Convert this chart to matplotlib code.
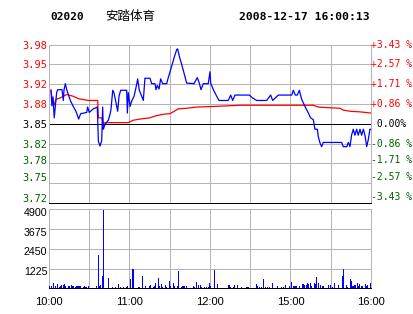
import matplotlib
matplotlib.use("Agg")
from matplotlib import pyplot as plt
from matplotlib.transforms import ScaledTranslation

# 分时数据（分钟序号：10:00=0, 12:30=150=14:30, 16:00=240）
price_t = [1.5, 2.2, 3.0, 3.9, 5.7, 6.5, 9.7, 10.7, 11.2, 12.2, 13.2, 14.4, 16.1, 18.1,
           20.1, 22.1, 23.6, 28.1, 28.8, 30, 33, 36, 36.8, 38, 39.3, 40, 40.5, 41.7,
           44.2, 45.5, 46.2, 47.5, 48.4, 49.7, 51.2, 52.2, 53.4, 57.9, 58.4, 59.1,
           60.4, 61.6, 63.4, 64.8, 66.1, 67.3, 69.1, 70.3, 71.5, 75.3, 76.5, 79, 79.7,
           80.7, 82, 83.2, 84.7, 87.7, 88.9, 91.4, 93.2, 95.2, 95.9, 97.1, 98.9,
           100.6, 102.6, 108.1, 110.5, 112, 113.3, 115, 118.7, 120, 120.5, 122.5, 125,
           126.7, 133.6, 135.4, 136.9, 138.6, 149.3, 151.8, 154.8, 162.2, 165.2,
           166.7, 170.9, 180.9, 182.1, 183.6, 185.1, 186.6, 188.3, 190.8, 193.3, 195,
           197, 198.2, 200, 200.7, 202, 203.2, 204.4, 218.1, 219.3, 221.9, 223.1,
           224.3, 225.6, 226.8, 228, 229.3, 230.5, 231.8, 233, 234.3, 235.5, 236.8,
           238, 239.2, 240]
price = [3.905, 3.880, 3.895, 3.860, 3.902, 3.907, 3.907, 3.889, 3.907, 3.917, 3.907,
         3.899, 3.888, 3.879, 3.871, 3.858, 3.867, 3.869, 3.878, 3.869, 3.875, 3.878,
         3.821, 3.813, 3.822, 3.878, 3.841, 3.849, 3.856, 3.866, 3.874, 3.906, 3.902,
         3.888, 3.871, 3.896, 3.906, 3.906, 3.868, 3.902, 3.879, 3.888, 3.896, 3.910,
         3.925, 3.906, 3.896, 3.889, 3.926, 3.926, 3.917, 3.917, 3.907, 3.914, 3.908,
         3.925, 3.917, 3.917, 3.927, 3.946, 3.960, 3.974, 3.975, 3.963, 3.949, 3.935,
         3.918, 3.917, 3.927, 3.918, 3.907, 3.917, 3.917, 3.937, 3.918, 3.907, 3.896,
         3.889, 3.889, 3.898, 3.889, 3.898, 3.898, 3.893, 3.889, 3.889, 3.898, 3.889,
         3.898, 3.898, 3.906, 3.898, 3.898, 3.906, 3.891, 3.879, 3.868, 3.860, 3.857,
         3.841, 3.841, 3.829, 3.818, 3.812, 3.819, 3.819, 3.812, 3.812, 3.819, 3.812,
         3.832, 3.841, 3.831, 3.841, 3.831, 3.841, 3.831, 3.841, 3.831, 3.812, 3.824,
         3.841, 3.841]

avg_t = [1.5, 2.2, 3.7, 5.2, 8.2, 13.2, 18.1, 21.9, 29.3, 36.3, 36.8, 39.3, 40.5, 41.7,
         59.1, 62.8, 67.8, 75.3, 79, 85.2, 90.2, 92.6, 96.4, 102.6, 110.1, 122.5,
         142.4, 197, 200.7, 208.2, 216.9, 219.3, 224.3, 231.8, 240]
avg = [3.907, 3.893, 3.881, 3.891, 3.893, 3.899, 3.896, 3.892, 3.889, 3.889, 3.860,
       3.860, 3.850, 3.852, 3.852, 3.856, 3.858, 3.860, 3.863, 3.866, 3.867, 3.870,
       3.875, 3.876, 3.878, 3.879, 3.881, 3.881, 3.878, 3.877, 3.876, 3.873, 3.871,
       3.870, 3.868]

vol_t = [1, 2, 4, 5, 7, 8, 9, 10, 11, 12, 13, 15, 16, 17, 18, 19, 20, 21, 22, 23, 24,
         26, 27, 28, 30, 36, 37, 38, 39, 40, 41, 45, 48, 50, 52, 54, 56, 58, 59, 61,
         63, 67, 68, 70, 72, 75, 76, 78, 79, 80, 82, 83, 84, 85, 87, 88, 90, 91, 93,
         94, 96, 97, 99, 100, 101, 103, 108, 109, 110, 112, 113, 114, 116, 118, 119,
         120, 121, 124, 126, 134, 135, 136, 138, 139, 141, 144, 148, 149, 155, 156,
         157, 159, 160, 162, 163, 165, 167, 171, 174, 175, 177, 180, 181, 183, 184,
         185, 187, 189, 190, 191, 192, 193, 194, 195, 196, 198, 199, 200, 201, 203,
         204, 205, 209, 210, 212, 213, 216, 219, 220, 222, 223, 225, 226, 227, 228,
         229, 230, 231, 232, 233, 234, 236, 237, 238, 240]
vol = [126, 126, 336, 168, 252, 105, 168, 231, 231, 273, 126, 126, 168, 231, 126, 168,
       105, 126, 168, 126, 126, 105, 168, 105, 147, 126, 2058, 168, 231, 735, 4830,
       630, 105, 105, 273, 105, 105, 105, 168, 546, 1176, 105, 105, 735, 168, 126,
       231, 105, 126, 336, 609, 168, 294, 105, 231, 105, 483, 168, 336, 168, 168,
       1050, 105, 168, 168, 168, 168, 105, 420, 231, 231, 105, 105, 105, 105, 315,
       168, 1113, 273, 210, 210, 105, 105, 210, 210, 105, 105, 105, 294, 168, 105,
       105, 546, 105, 105, 105, 336, 168, 105, 105, 231, 168, 420, 126, 168, 126,
       168, 273, 273, 210, 231, 336, 294, 336, 168, 336, 273, 672, 336, 210, 168,
       126, 231, 231, 105, 336, 231, 735, 1176, 231, 105, 546, 483, 168, 231, 231,
       336, 168, 273, 168, 168, 273, 168, 231, 336]

prev_close = 3.85
step = 0.033
price_labels = ['3.72', '3.75', '3.78', '3.82', '3.85', '3.88', '3.92', '3.95', '3.98']
pct_labels = ['-3.43 %', '-2.57 %', '-1.71 %', '-0.86 %', ' 0.00%',
              '+0.86 %', '+1.71 %', '+2.57 %', '+3.43 %']
vol_ticks = [1225, 2450, 3675, 4900]
time_ticks = [0, 60, 120, 180, 240]
time_labels = ['10:00', '11:00', '12:00', '15:00', '16:00']

RED = '#ff0000'
GREEN = '#006000'
GRID = '#b4b4b4'
PX = 0.72  # 1像素

fig = plt.figure(figsize=(4.14, 3.14), dpi=100)
W, H = 414.0, 314.0
ax = fig.add_axes([49 / W, 1 - 203 / H, 322 / W, 158.3 / H])
axv = fig.add_axes([49 / W, 1 - 288.3 / H, 322 / W, 79 / H])
ax.patch.set_visible(False)
axv.patch.set_visible(False)

levels = [prev_close + k * step for k in range(-4, 5)]
half_hours = list(range(30, 240, 30))


def frame(a):
    for side in ('top', 'left', 'right'):
        a.spines[side].set_color(GRID)
        a.spines[side].set_linewidth(PX)
        a.spines[side].set_antialiased(False)
    a.spines['bottom'].set_color('black')
    a.spines['bottom'].set_linewidth(PX)
    a.spines['bottom'].set_antialiased(False)


def label_color(i):
    return GREEN if i < 4 else ('black' if i == 4 else RED)


# 价格图
ax.set_xlim(0, 240)
ax.set_ylim(levels[0], levels[-1])
ax.hlines(levels[1:-1], 0, 240, colors=GRID, lw=PX, zorder=2, antialiased=False)
ax.vlines(half_hours, levels[0], levels[-1], colors=GRID, lw=PX, zorder=2, antialiased=False)
ax.axhline(prev_close, color='black', lw=PX, zorder=2.1, antialiased=False)
ax.plot(avg_t, avg, color=RED, lw=0.9, zorder=3)
ax.plot(price_t, price, color='#0000ff', lw=0.9, zorder=4)
ax.set_xticks([])
ax.set_yticks(levels)
ax.set_yticklabels(price_labels, family='DejaVu Sans Mono', fontsize=7.5)
ax.tick_params(length=0, pad=1.5)

# 下半部分标签稍微上移
shift = [-5.5, -6, -3, 0, 0, 0, 0, 0, 0]
for i, (lab, s) in enumerate(zip(ax.get_yticklabels(), shift)):
    lab.set_color(label_color(i))
    lab.set_transform(lab.get_transform() + ScaledTranslation(0, -s / 100, fig.dpi_scale_trans))

# 右侧涨跌幅
right = ax.get_yaxis_transform()
for i, (lv, txt, s) in enumerate(zip(levels, pct_labels, shift)):
    ax.text(1.0, lv, txt, transform=right + ScaledTranslation(0.5 / 100, -s / 100, fig.dpi_scale_trans),
            ha='left', va='center', family='DejaVu Sans Mono', fontsize=7,
            color=label_color(i), clip_on=False)

frame(ax)

# 成交量
axv.set_xlim(0, 240)
axv.set_ylim(0, 4900)
axv.hlines(vol_ticks[:-1], 0, 240, colors=GRID, lw=PX, zorder=2, antialiased=False)
axv.vlines(half_hours, 0, 4900, colors=GRID, lw=PX, zorder=2, antialiased=False)
axv.bar(vol_t, vol, width=-0.8, align='edge', color='#0000ff', lw=0, zorder=3)
axv.set_xticks(time_ticks)
axv.set_xticklabels(time_labels, family='Liberation Sans', fontsize=8)
axv.set_yticks(vol_ticks)
axv.set_yticklabels([str(v) for v in vol_ticks], family='Liberation Sans', fontsize=7.7)
axv.tick_params(axis='y', length=0, pad=1.2)
axv.tick_params(axis='x', length=0, pad=6)
for lab in axv.get_yticklabels():
    lab.set_transform(lab.get_transform() + ScaledTranslation(0, -2.5 / 100, fig.dpi_scale_trans))
frame(axv)

# 标题
ty = 1 - 16.5 / H
fig.text(50 / W, ty, '02020', ha='left', va='center', family='DejaVu Sans Mono',
         weight='bold', fontsize=8)
fig.text(105 / W, ty, '安踏体育', ha='left', va='center',
         family=['Noto Sans CJK SC', 'DejaVu Sans'], fontsize=9)
fig.text(370 / W, ty, '2008-12-17 16:00:13', ha='right', va='center',
         family='DejaVu Sans Mono', weight='bold', fontsize=8.2)

fig.savefig('out.png', dpi=100, facecolor='white')
